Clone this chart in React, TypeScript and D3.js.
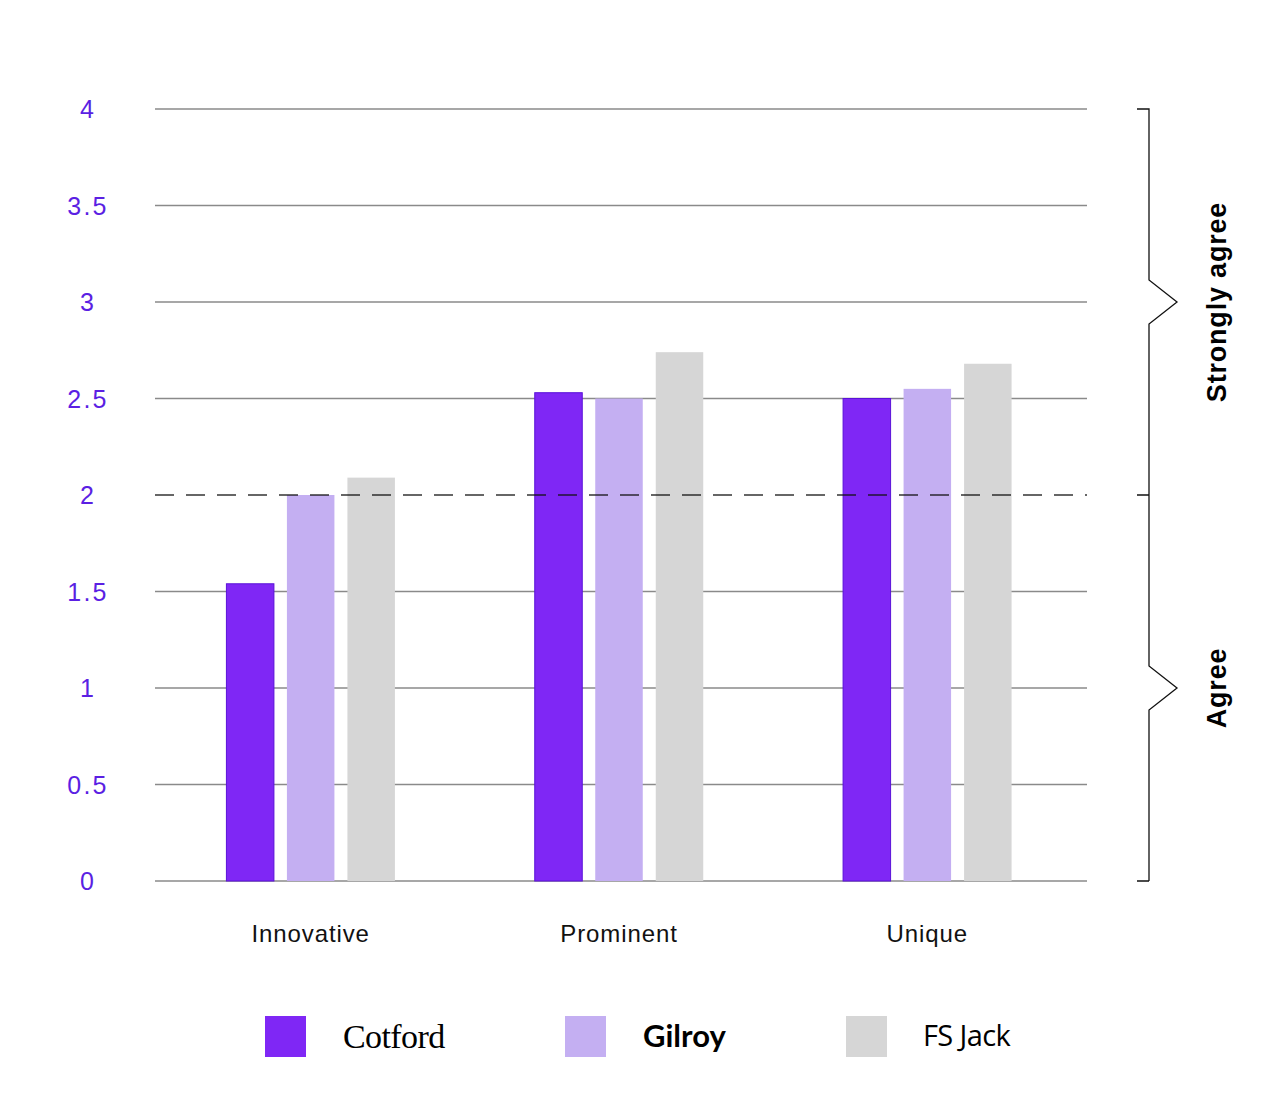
import * as d3 from "d3";
import { useEffect, useRef } from "react";

const categories = ["Innovative", "Prominent", "Unique"];
const brands = ["Cotford", "Gilroy", "FS Jack"];
const cotford = [1.54, 2.53, 2.5];
const gilroy = [2.0, 2.5, 2.55];
const fsJack = [2.09, 2.74, 2.68];
const yTicks = [0, 0.5, 1, 1.5, 2, 2.5, 3, 3.5, 4];
const threshold = 2;
const bands = [
  { label: "Agree", from: 0, to: 2 },
  { label: "Strongly agree", from: 2, to: 4 },
];

const colors = ["#7f27f5", "#c4aff2", "#d6d6d6"];
const legendFonts = [
  { family: "'Liberation Serif', 'DejaVu Serif', serif", weight: 400, size: 34, spacing: -0.6 },
  { family: "Lato, 'Noto Sans', sans-serif", weight: 700, size: 31, spacing: 0 },
  { family: "'Open Sans', 'Noto Sans', sans-serif", weight: 400, size: 29, spacing: -0.6 },
];

export default function App() {
  const svgRef = useRef<SVGSVGElement>(null);

  useEffect(() => {
    if (!svgRef.current) return;
    const width = 1280;
    const height = 1104;
    const marginLeft = 155;
    const plotRight = 1087;
    const top = 109;
    const bottom = 881;

    const svg = d3.select(svgRef.current);
    svg.selectAll("*").remove();

    const x = d3.scaleBand<string>().domain(categories).range([156.5, 1081.5]);
    const y = d3.scaleLinear().domain([0, 4]).range([bottom, top]);
    const barW = 47.5;
    const step = 60.5;

    const sans = "'Liberation Sans', Arial, sans-serif";

    // gridlines
    svg
      .append("g")
      .selectAll("line")
      .data(yTicks.filter((t) => t !== threshold))
      .join("line")
      .attr("x1", marginLeft)
      .attr("x2", plotRight)
      .attr("y1", (d) => y(d))
      .attr("y2", (d) => y(d))
      .attr("stroke", "#8a8a8a")
      .attr("stroke-width", 1.3);

    // y tick labels
    svg
      .append("g")
      .selectAll("text")
      .data(yTicks)
      .join("text")
      .attr("x", 88)
      .attr("y", (d) => y(d))
      .attr("dy", "0.36em")
      .attr("text-anchor", "middle")
      .attr("fill", "#5b1fe3")
      .attr("font-family", sans)
      .attr("font-size", 25)
      .attr("letter-spacing", 2.2)
      .text((d) => String(d));

    const series = [cotford, gilroy, fsJack];
    const rows = categories.flatMap((c, i) =>
      series.map((s, j) => ({ c, j, v: s[i] }))
    );

    svg
      .append("g")
      .selectAll("rect")
      .data(rows)
      .join("rect")
      .attr("x", (d) => x(d.c)! + x.bandwidth() / 2 - barW / 2 + (d.j - 1) * step)
      .attr("width", barW)
      .attr("y", (d) => y(d.v))
      .attr("height", (d) => y(0) - y(d.v))
      .attr("fill", (d) => colors[d.j])
      .attr("stroke", (d) => (d.j === 0 ? "#5a12d8" : "none"))
      .attr("stroke-width", 1);

    // dashed threshold line
    svg
      .append("line")
      .attr("x1", marginLeft)
      .attr("x2", plotRight)
      .attr("y1", y(threshold))
      .attr("y2", y(threshold))
      .attr("stroke", "#111")
      .attr("stroke-opacity", 0.85)
      .attr("stroke-width", 1.3)
      .attr("stroke-dasharray", "19,12");

    // category labels
    svg
      .append("g")
      .selectAll("text")
      .data(categories)
      .join("text")
      .attr("x", (d) => x(d)! + x.bandwidth() / 2)
      .attr("y", 942)
      .attr("text-anchor", "middle")
      .attr("fill", "#111")
      .attr("font-family", sans)
      .attr("font-size", 24)
      .attr("letter-spacing", 0.9)
      .text((d) => d);

    // bracket on the right
    const bx = 1149;
    const notch = 22;
    const path = d3.path();
    path.moveTo(1137, y(4));
    path.lineTo(bx, y(4));
    bands
      .slice()
      .reverse()
      .forEach((b) => {
        const mid = y((b.from + b.to) / 2);
        path.lineTo(bx, mid - notch);
        path.lineTo(bx + 28, mid);
        path.lineTo(bx, mid + notch);
        path.lineTo(bx, y(b.from));
        path.moveTo(1137, y(b.from));
        path.lineTo(bx, y(b.from));
        path.moveTo(bx, y(b.from));
      });
    svg
      .append("path")
      .attr("d", path.toString())
      .attr("fill", "none")
      .attr("stroke", "#111")
      .attr("stroke-width", 1.3);

    svg
      .append("g")
      .selectAll("text")
      .data(bands)
      .join("text")
      .attr("transform", (d) => `translate(1226,${y((d.from + d.to) / 2)}) rotate(-90)`)
      .attr("text-anchor", "middle")
      .attr("fill", "#000")
      .attr("font-family", sans)
      .attr("font-weight", 700)
      .attr("font-size", 27)
      .attr("letter-spacing", 0.8)
      .text((d) => d.label);

    // legend
    const legendX = [265, 565, 846];
    const legend = svg
      .append("g")
      .selectAll("g")
      .data(brands)
      .join("g")
      .attr("transform", (_, i) => `translate(${legendX[i]},1016)`);
    legend
      .append("rect")
      .attr("width", 41)
      .attr("height", 41)
      .attr("fill", (_, i) => colors[i]);
    legend
      .append("text")
      .attr("x", (_, i) => [78, 78, 77][i])
      .attr("y", 20)
      .attr("dy", "0.36em")
      .attr("fill", "#000")
      .attr("font-family", (_, i) => legendFonts[i].family)
      .attr("font-weight", (_, i) => legendFonts[i].weight)
      .attr("font-size", (_, i) => legendFonts[i].size)
      .attr("letter-spacing", (_, i) => legendFonts[i].spacing)
      .text((d) => d);

    svg.attr("width", width).attr("height", height);
  }, []);

  return (
    <svg
      ref={svgRef}
      width={1280}
      height={1104}
      style={{ position: "absolute", left: 0, top: 0, background: "#fff" }}
    />
  );
}
